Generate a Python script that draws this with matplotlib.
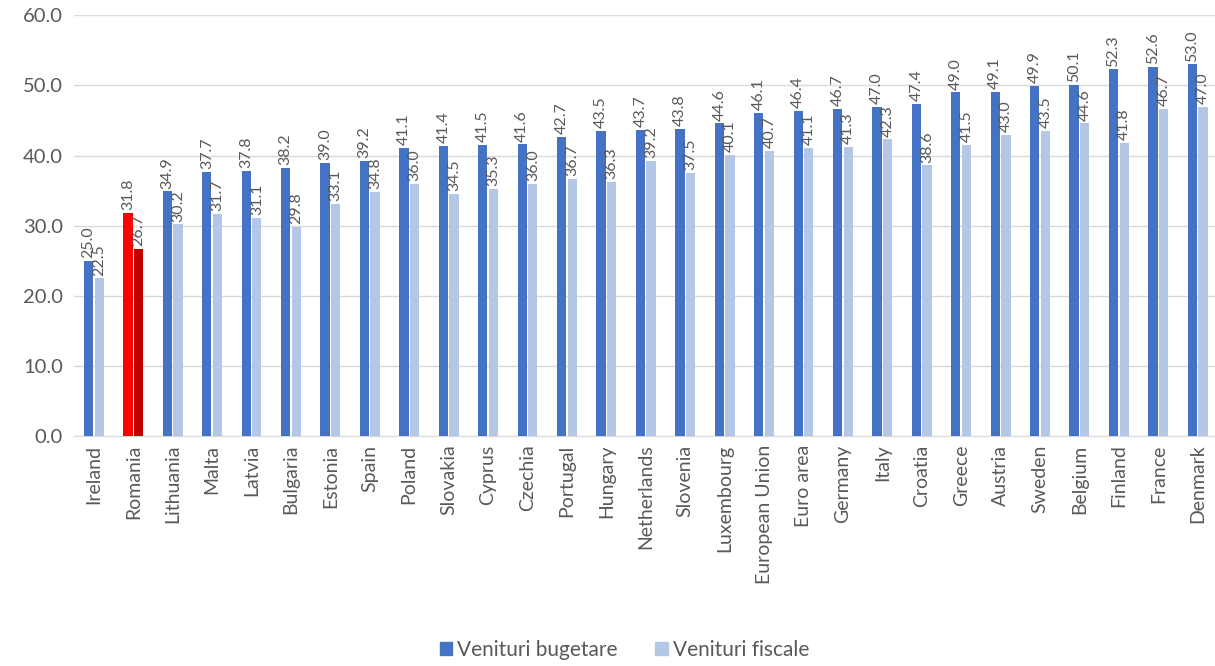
import matplotlib
matplotlib.use("Agg")
import matplotlib.pyplot as plt
import numpy as np

categories = ["Ireland", "Romania", "Lithuania", "Malta", "Latvia", "Bulgaria", "Estonia",
              "Spain", "Poland", "Slovakia", "Cyprus", "Czechia", "Portugal", "Hungary",
              "Netherlands", "Slovenia", "Luxembourg", "European Union", "Euro area",
              "Germany", "Italy", "Croatia", "Greece", "Austria", "Sweden", "Belgium",
              "Finland", "France", "Denmark"]
venituri_bugetare = [25.0, 31.8, 34.9, 37.7, 37.8, 38.2, 39.0, 39.2, 41.1, 41.4, 41.5, 41.6,
                     42.7, 43.5, 43.7, 43.8, 44.6, 46.1, 46.4, 46.7, 47.0, 47.4, 49.0, 49.1,
                     49.9, 50.1, 52.3, 52.6, 53.0]
venituri_fiscale = [22.5, 26.7, 30.2, 31.7, 31.1, 29.8, 33.1, 34.8, 36.0, 34.5, 35.3, 36.0,
                    36.7, 36.3, 39.2, 37.5, 40.1, 40.7, 41.1, 41.3, 42.3, 38.6, 41.5, 43.0,
                    43.5, 44.6, 41.8, 46.7, 47.0]
yticks = [0, 10, 20, 30, 40, 50, 60]

plt.rcParams['font.family'] = ['Lato', 'DejaVu Sans']
txt = '#595959'
c1, c2 = '#4472C4', '#B4C7E7'
highlight = {"Romania": ('#FF0000', '#C00000')}

fig = plt.figure(figsize=(12.15, 6.66), dpi=100)
ax = fig.add_axes([0.061, 0.345, 0.941, 0.632])

x = np.arange(len(categories))
w = 0.235
off = 0.135
cols1 = [highlight.get(c, (c1, c2))[0] for c in categories]
cols2 = [highlight.get(c, (c1, c2))[1] for c in categories]
ax.bar(x - off, venituri_bugetare, w, color=cols1, zorder=3)
ax.bar(x + off, venituri_fiscale, w, color=cols2, zorder=3)

for xi, v in zip(x - off, venituri_bugetare):
    ax.annotate(f"{v:.1f}", (xi, v), xytext=(0, 2), textcoords='offset points',
                rotation=90, ha='center', va='bottom', fontsize=11.5, color=txt, zorder=4)
for xi, v in zip(x + off, venituri_fiscale):
    ax.annotate(f"{v:.1f}", (xi, v), xytext=(0, 2), textcoords='offset points',
                rotation=90, ha='center', va='bottom', fontsize=11.5, color=txt, zorder=4)

ax.set_xlim(-0.5, len(categories) - 0.5)
ax.set_ylim(0, 60)
ax.set_yticks(yticks)
ax.set_yticklabels([f"{t:.1f}" for t in yticks], fontsize=14.5, color=txt)
ax.set_xticks(x)
ax.set_xticklabels(categories, rotation=90, fontsize=14, color=txt)
ax.tick_params(axis='both', length=0)
ax.tick_params(axis='x', pad=6)
ax.tick_params(axis='y', pad=8)
ax.grid(axis='y', color='#D9D9D9', linewidth=1, zorder=0)
for s in ['top', 'right', 'left']:
    ax.spines[s].set_visible(False)
ax.spines['bottom'].set_color('#D9D9D9')

from matplotlib.patches import Patch
handles = [Patch(color=c1), Patch(color=c2)]
fig.legend(handles, ['Venituri bugetare', 'Venituri fiscale'], loc='center',
           bbox_to_anchor=(0.514, 0.024), ncol=2, frameon=False, fontsize=15,
           labelcolor=txt, handlelength=0.6, handleheight=0.6, handletextpad=0.25,
           columnspacing=1.8)

fig.savefig('out.png', dpi=100)
